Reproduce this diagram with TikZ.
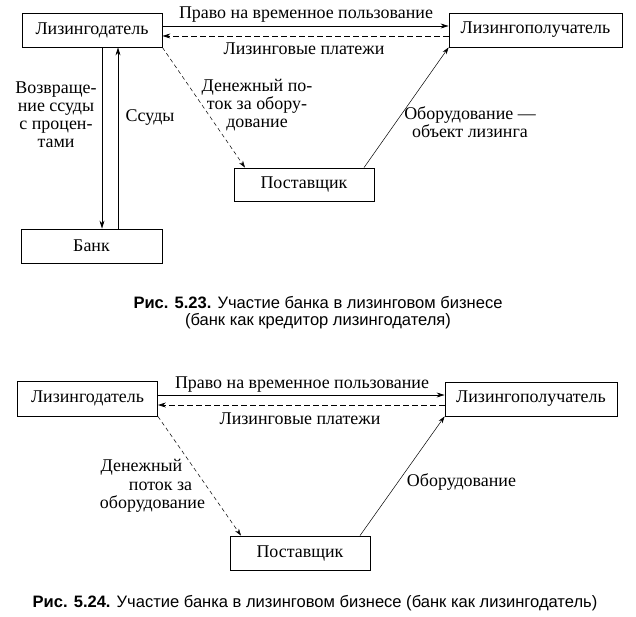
\documentclass[tikz,border=0pt]{standalone}
\usepackage{fontspec}
\setmainfont{Liberation Serif}
\newfontfamily\capfont{Liberation Sans}
\usetikzlibrary{arrows.meta}
\begin{document}
\begin{tikzpicture}[x=1bp,y=-1bp,
  every node/.style={font=\fontsize{18}{18}\selectfont},
  box/.style={draw,line width=0.8bp,inner sep=0pt,minimum width=140bp,minimum height=34bp},
  lbl/.style={inner sep=0pt,align=center},
  captxt/.style={inner sep=0pt,align=center,font=\capfont\fontsize{16.6}{17}\selectfont},
  tip/.style={-{Stealth[length=8bp,width=5bp]}},
  thintip/.style={-{Stealth[length=7bp,width=4.5bp]}},
  thick1/.style={line width=0.8bp},
  thin1/.style={line width=0.5bp},
  dash1/.style={dash pattern=on 6bp off 3bp},
  dash2/.style={dash pattern=on 4bp off 3bp}]
\useasboundingbox (0,0) rectangle (636,617);
% ---------- Figure 5.23 ----------
\node[box] (lgd1) at (92,30) {Лизингодатель};
\node[box,minimum width=173bp] (lpl1) at (535.5,30) {Лизингополучатель};
\node[box,minimum height=33bp] (pst1) at (304,184.5) {Поставщик};
\node[box,minimum width=141bp] (bank1) at (91.5,246) {Банк};
\draw[thick1,tip] ([yshift=4bp]lgd1.east) -- ([yshift=4bp]lpl1.west);
\draw[thick1,dash1,tip] ([yshift=-6bp]lpl1.west) -- ([yshift=-6bp]lgd1.east);
\draw[thick1,tip] ([xshift=10bp]lgd1.south) -- ([xshift=10.5bp]bank1.north);
\draw[thick1,tip] ([xshift=26.5bp]bank1.north) -- ([xshift=26bp]lgd1.south);
\draw[thin1,dash2,thintip] (lgd1.south east) -- ([xshift=-59bp]pst1.north);
\draw[thin1,thintip] ([xshift=60bp]pst1.north) -- (lpl1.south west);
\node[lbl] (t1) at (306,15) {Право на временное пользование};
\node[lbl] (t2) at (304,49) {Лизинговые платежи};
\node[lbl] (t3) at (257,105) {Денежный по-\\ток за обору-\\дование};
\node[lbl] (t4) at (56,115) {Возвраще-\\ние ссуды\\с процен-\\тами};
\node[lbl] (t5) at (150,117) {Ссуды};
\node[lbl] (t6) at (470,122) {Оборудование —\\объект лизинга};
\node[captxt] (c1) at (318,312.5) {{\bfseries Рис. 5.23.} Участие банка в лизинговом бизнесе\\(банк как кредитор лизингодателя)};
% ---------- Figure 5.24 ----------
\node[box,minimum height=35bp] (lgd2) at (87.5,398.5) {Лизингодатель};
\node[box,minimum width=172bp] (lpl2) at (531,399) {Лизингополучатель};
\node[box] (pst2) at (300,553) {Поставщик};
\draw[thick1,tip] ([yshift=3.5bp]lgd2.east) -- ([yshift=4bp]lpl2.west);
\draw[thick1,dash1,tip] ([yshift=-6bp]lpl2.west) -- ([yshift=-6.5bp]lgd2.east);
\draw[thin1,dash2,thintip] (lgd2.south east) -- ([xshift=-59bp]pst2.north);
\draw[thin1,thintip] ([xshift=60bp]pst2.north) -- (lpl2.south west);
\node[lbl] (u1) at (302,385) {Право на временное пользование};
\node[lbl] (u2) at (300,419) {Лизинговые платежи};
\node[lbl] (u3a) at (141.5,467) {Денежный};
\node[lbl] (u3b) at (160.5,486) {поток за};
\node[lbl] (u3c) at (152.5,504) {оборудование};
\node[lbl] (u4) at (461.5,482) {Оборудование};
\node[captxt] (c2) at (315,603) {{\bfseries Рис. 5.24.} Участие банка в лизинговом бизнесе (банк как лизингодатель)};
\end{tikzpicture}
\end{document}
